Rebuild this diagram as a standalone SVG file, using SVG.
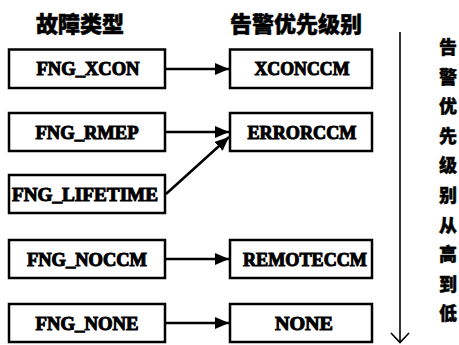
<svg xmlns="http://www.w3.org/2000/svg" width="459" height="345" viewBox="0 0 459 345">
<style>
.box{fill:#fff;stroke:#000;stroke-width:2.5}
.lbl{font-family:"Liberation Serif",serif;font-weight:bold;font-size:18px;fill:#000;stroke:#000;stroke-width:1;text-anchor:middle}
.hdr{font-family:"Noto Sans CJK SC",sans-serif;font-weight:900;font-size:22px;fill:#000;stroke:#000;stroke-width:0.5;text-anchor:middle}
.vt{font-family:"Noto Sans CJK SC",sans-serif;font-weight:900;font-size:18px;fill:#000;stroke:#000;stroke-width:0.4;text-anchor:middle}
.con{stroke:#000;stroke-width:2.5;fill:none}
</style>
<defs>
<marker id="ah" markerUnits="userSpaceOnUse" markerWidth="16" markerHeight="14" refX="14" refY="6" orient="auto">
<path d="M0,0 L14,6 L0,12 Z" fill="#000"/>
</marker>
</defs>
<rect width="459" height="345" fill="#fff"/>
<g id="headers">
<text class="hdr" x="80" y="32">故障类型</text>
<text class="hdr" x="296" y="32">告警优先级别</text>
</g>
<g id="n_fng_xcon"><rect class="box" x="9" y="49.5" width="156" height="38.5"/><text class="lbl" x="88" y="75" textLength="103" lengthAdjust="spacingAndGlyphs">FNG_XCON</text></g>
<g id="n_fng_rmep"><rect class="box" x="9" y="113" width="156" height="38"/><text class="lbl" x="87" y="138.5" textLength="103" lengthAdjust="spacingAndGlyphs">FNG_RMEP</text></g>
<g id="n_fng_lifetime"><rect class="box" x="9" y="175" width="156" height="38"/><text class="lbl" x="85" y="200.5" textLength="146" lengthAdjust="spacingAndGlyphs">FNG_LIFETIME</text></g>
<g id="n_fng_noccm"><rect class="box" x="9" y="240" width="156" height="38"/><text class="lbl" x="87" y="265.5" textLength="120" lengthAdjust="spacingAndGlyphs">FNG_NOCCM</text></g>
<g id="n_fng_none"><rect class="box" x="9" y="304" width="156" height="38"/><text class="lbl" x="87" y="329.5" textLength="103" lengthAdjust="spacingAndGlyphs">FNG_NONE</text></g>
<g id="n_xconccm"><rect class="box" x="230" y="49.5" width="142" height="38.5"/><text class="lbl" x="302" y="75" textLength="95" lengthAdjust="spacingAndGlyphs">XCONCCM</text></g>
<g id="n_errorccm"><rect class="box" x="230" y="113" width="142" height="38"/><text class="lbl" x="302" y="138.5" textLength="109" lengthAdjust="spacingAndGlyphs">ERRORCCM</text></g>
<g id="n_remoteccm"><rect class="box" x="230" y="240" width="142" height="38"/><text class="lbl" x="305" y="265.5" textLength="124" lengthAdjust="spacingAndGlyphs">REMOTECCM</text></g>
<g id="n_none"><rect class="box" x="230" y="304" width="142" height="38"/><text class="lbl" x="304" y="329.5" textLength="58" lengthAdjust="spacingAndGlyphs">NONE</text></g>
<g id="connectors">
<line class="con" x1="166" y1="69" x2="229" y2="69" marker-end="url(#ah)"/>
<line class="con" x1="166" y1="132" x2="229" y2="132" marker-end="url(#ah)"/>
<line class="con" x1="166" y1="194" x2="229" y2="137" marker-end="url(#ah)"/>
<line class="con" x1="166" y1="259" x2="229" y2="259" marker-end="url(#ah)"/>
<line class="con" x1="166" y1="323" x2="229" y2="323" marker-end="url(#ah)"/>
</g>
<g id="priority_axis">
<line x1="400" y1="32" x2="400" y2="342" stroke="#000" stroke-width="1.6"/>
<path d="M391,333 L400,342.5 L409,333" fill="none" stroke="#000" stroke-width="1.6"/>
<text class="vt" x="448" y="54">告</text>
<text class="vt" x="448" y="84">警</text>
<text class="vt" x="448" y="113">优</text>
<text class="vt" x="448" y="143">先</text>
<text class="vt" x="448" y="172">级</text>
<text class="vt" x="448" y="202">别</text>
<text class="vt" x="448" y="232">从</text>
<text class="vt" x="448" y="261">高</text>
<text class="vt" x="448" y="291">到</text>
<text class="vt" x="448" y="320">低</text>
</g>
</svg>
